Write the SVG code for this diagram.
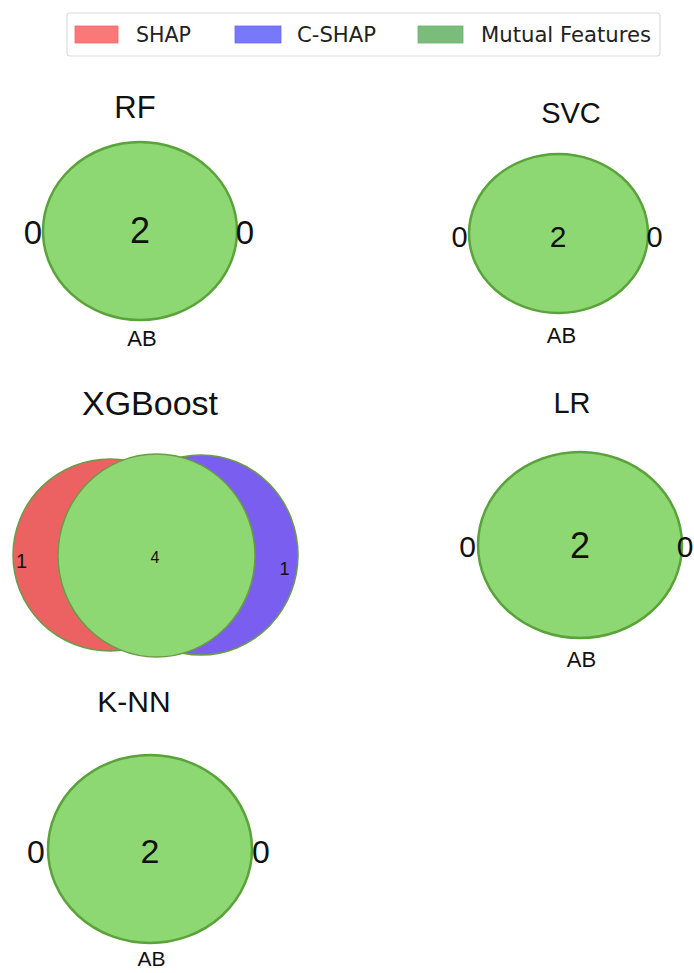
<svg xmlns="http://www.w3.org/2000/svg" width="694" height="973" viewBox="0 0 694 973">
<style>
.t{font-family:"Liberation Sans",Arial,sans-serif;fill:#111;text-anchor:middle}
.lg{font-family:"DejaVu Sans","Liberation Sans",sans-serif;fill:#222;font-size:22px}
.g{fill:#8dd873;stroke:#5aa23a;stroke-width:2.5}
.gx{fill:#8dd873;stroke:#6a9c48;stroke-width:1.5}
.r{fill:#ec6262;stroke:#6a9c48;stroke-width:1.5}
.b{fill:#7a5ef0;stroke:#6a9c48;stroke-width:1.5}
</style>
<rect width="694" height="973" fill="#fff"/>
<g id="legend">
<rect x="67" y="13" width="593" height="43" rx="3" fill="#fff" stroke="#dcdcdc" stroke-width="1.2"/>
<rect x="75" y="26" width="43" height="17" fill="#fb7878" stroke="#f06a6a" stroke-width="0.8"/>
<text class="lg" x="136" y="42" textLength="55" lengthAdjust="spacingAndGlyphs">SHAP</text>
<rect x="235" y="26" width="46" height="17" fill="#7878fa" stroke="#6a6af0" stroke-width="0.8"/>
<text class="lg" x="297" y="42" textLength="79" lengthAdjust="spacingAndGlyphs">C-SHAP</text>
<rect x="418" y="26" width="45" height="17" fill="#7abd7a" stroke="#6cb26c" stroke-width="0.8"/>
<text class="lg" x="481" y="42" textLength="170" lengthAdjust="spacingAndGlyphs">Mutual Features</text>
</g>
<g id="rf">
<text class="t" x="135" y="118" font-size="31">RF</text>
<ellipse class="g" cx="140" cy="231" rx="97" ry="89"/>
<text class="t" x="140" y="243" font-size="36">2</text>
<text class="t" x="33" y="244" font-size="33">0</text>
<text class="t" x="245" y="244" font-size="33">0</text>
<text class="t" x="142" y="346" font-size="22">AB</text>
</g>
<g id="svc">
<text class="t" x="571" y="123" font-size="29">SVC</text>
<ellipse class="g" cx="558.5" cy="233.5" rx="89.5" ry="79.5"/>
<text class="t" x="558" y="247" font-size="30">2</text>
<text class="t" x="459.5" y="247" font-size="29">0</text>
<text class="t" x="654.5" y="247" font-size="29">0</text>
<text class="t" x="561.5" y="343" font-size="22">AB</text>
</g>
<g id="xgboost">
<text class="t" x="150" y="415" font-size="34">XGBoost</text>
<ellipse class="r" cx="110" cy="555" rx="97" ry="96"/>
<ellipse class="b" cx="201" cy="555" rx="97" ry="100"/>
<ellipse class="gx" cx="156.5" cy="555.5" rx="98.5" ry="101.5"/>
<text class="t" x="21.5" y="568" font-size="20">1</text>
<text class="t" x="155" y="563" font-size="16">4</text>
<text class="t" x="284.5" y="575" font-size="18">1</text>
</g>
<g id="lr">
<text class="t" x="572" y="413" font-size="29">LR</text>
<ellipse class="g" cx="580" cy="545" rx="102" ry="93"/>
<text class="t" x="580" y="558" font-size="36">2</text>
<text class="t" x="467.5" y="557" font-size="30">0</text>
<text class="t" x="685" y="557" font-size="30">0</text>
<text class="t" x="581.5" y="667" font-size="22">AB</text>
</g>
<g id="knn">
<text class="t" x="134" y="712" font-size="30">K-NN</text>
<ellipse class="g" cx="150" cy="849" rx="102" ry="94"/>
<text class="t" x="150" y="863" font-size="34">2</text>
<text class="t" x="36" y="863" font-size="32">0</text>
<text class="t" x="261" y="863" font-size="32">0</text>
<text class="t" x="151.5" y="966" font-size="21">AB</text>
</g>
<g id="connectors"/>
</svg>
